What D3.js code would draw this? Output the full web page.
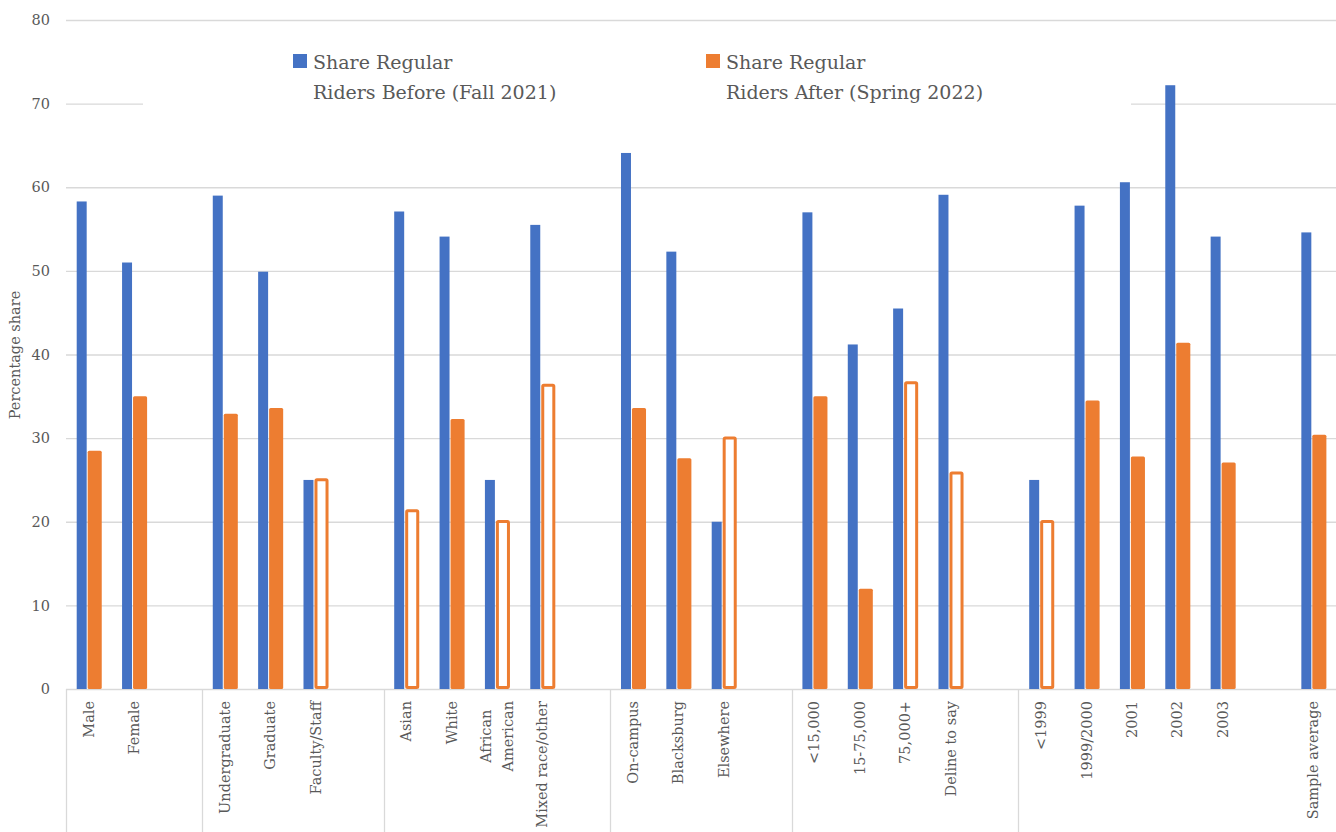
<!DOCTYPE html>
<html>
<head>
<meta charset="utf-8">
<script src="https://cdn.jsdelivr.net/npm/d3@7"></script>
<style>
  html, body { margin: 0; padding: 0; background: #fff; }
  svg { display: block; }
  text { font-family: "DejaVu Serif", "Liberation Serif", serif; fill: #595959; }
</style>
</head>
<body>
<svg id="chart" width="1336" height="832"></svg>
<script>
// Category slots along the x axis; empty strings are spacer slots between groups
const categories = [
  "Male", "Female", "",
  "Undergraduate", "Graduate", "Faculty/Staff", "",
  "Asian", "White", "African\nAmerican", "Mixed race/other", "",
  "On-campus", "Blacksburg", "Elsewhere", "",
  "<15,000", "15-75,000", "75,000+", "Deline to say", "",
  "<1999", "1999/2000", "2001", "2002", "2003", "",
  "Sample average"
];

// Share of regular riders (%), same order as categories
const before = [
  58.3, 51.0, null,
  59.0, 49.9, 25.0, null,
  57.1, 54.1, 25.0, 55.5, null,
  64.1, 52.3, 20.0, null,
  57.0, 41.2, 45.5, 59.1, null,
  25.0, 57.8, 60.6, 72.2, 54.1, null,
  54.6
];
const after = [
  28.5, 35.0, null,
  32.9, 33.6, 25.2, null,
  21.5, 32.3, 20.2, 36.5, null,
  33.6, 27.6, 30.2, null,
  35.0, 12.0, 36.8, 26.0, null,
  20.2, 34.5, 27.8, 41.4, 27.1, null,
  30.4
];

// Categories whose "after" bar is drawn as an outline only
const outlinedAfter = ["Faculty/Staff", "Asian", "African\nAmerican", "Mixed race/other",
  "Elsewhere", "75,000+", "Deline to say", "<1999"];

// First category of each group (group dividers below the axis)
const groupStarts = ["Male", "Undergraduate", "Asian", "On-campus", "<15,000", "<1999"];

const seriesNames = [
  ["Share Regular", "Riders Before (Fall 2021)"],
  ["Share Regular", "Riders After (Spring 2022)"]
];
const yTicks = [0, 10, 20, 30, 40, 50, 60, 70, 80];
const yTitle = "Percentage share";

const BLUE = "#4472C4", ORANGE = "#ED7D31", GRID = "#d9d9d9";

const svg = d3.select("#chart");
const plotLeft = 66, plotRight = 1336, plotTop = 20, plotBottom = 689;

const x = d3.scaleBand().domain(d3.range(categories.length)).range([plotLeft, plotRight]).padding(0);
const y = d3.scaleLinear().domain([0, 80]).range([plotBottom, plotTop]);
const bw = x.bandwidth();

// Horizontal gridlines
svg.append("g").selectAll("line").data(yTicks).join("line")
  .attr("x1", plotLeft).attr("x2", plotRight)
  .attr("y1", d => y(d) + 0.5).attr("y2", d => y(d) + 0.5)
  .attr("stroke", GRID).attr("stroke-width", 1.3);

// Y axis labels via d3 axis
const yAxis = svg.append("g").attr("transform", `translate(${plotLeft},0)`)
  .call(d3.axisLeft(y).tickValues(yTicks).tickSize(0).tickPadding(16));
yAxis.select(".domain").remove();
yAxis.selectAll("text")
  .attr("font-family", "DejaVu Serif").attr("font-size", 14.5).attr("fill", "#595959");

// Y axis title
svg.append("text")
  .attr("transform", "translate(20,355) rotate(-90)")
  .attr("text-anchor", "middle")
  .attr("font-size", 14.5)
  .text(yTitle);

// Legend (white panel sits over the plot area)
svg.append("rect").attr("x", 143).attr("y", 30).attr("width", 988).attr("height", 85).attr("fill", "#fff");
const legendX = [293, 706];
[BLUE, ORANGE].forEach((c, i) => {
  const g = svg.append("g").attr("transform", `translate(${legendX[i]},0)`);
  g.append("rect").attr("x", 0).attr("y", 54).attr("width", 14).attr("height", 14).attr("fill", c);
  g.append("text").attr("x", 20).attr("y", 69).attr("font-size", 19).text(seriesNames[i][0]);
  g.append("text").attr("x", 20).attr("y", 99).attr("font-size", 19).text(seriesNames[i][1]);
});

// Group dividers below the axis
const dividerX = groupStarts.map(c => x(categories.indexOf(c)));
svg.append("g").selectAll("line").data(dividerX).join("line")
  .attr("x1", d => Math.round(d) + 0.5).attr("x2", d => Math.round(d) + 0.5)
  .attr("y1", plotBottom).attr("y2", 832)
  .attr("stroke", GRID).attr("stroke-width", 1.3);

const idx = d3.range(categories.length);

// "Before" bars
svg.append("g").selectAll("rect").data(idx.filter(i => before[i] != null)).join("rect")
  .attr("x", i => x(i) + bw * 0.236)
  .attr("width", bw * 0.22)
  .attr("y", i => y(before[i]))
  .attr("height", i => y(0) - y(before[i]))
  .attr("fill", BLUE);

// "After" bars: solid or outlined
const afterIdx = idx.filter(i => after[i] != null);
const solid = afterIdx.filter(i => !outlinedAfter.includes(categories[i]));
const hollow = afterIdx.filter(i => outlinedAfter.includes(categories[i]));
svg.append("g").selectAll("rect").data(solid).join("rect")
  .attr("x", i => x(i) + bw * 0.478)
  .attr("width", bw * 0.31)
  .attr("y", i => y(after[i]))
  .attr("height", i => y(0) - y(after[i]))
  .attr("rx", 1.5)
  .attr("fill", ORANGE);
svg.append("g").selectAll("rect").data(hollow).join("rect")
  .attr("x", i => x(i) + bw * 0.478 + 1.5)
  .attr("width", bw * 0.31 - 3)
  .attr("y", i => y(after[i]) + 1.5)
  .attr("height", i => y(0) - y(after[i]) - 3)
  .attr("rx", 1)
  .attr("fill", "#fff")
  .attr("stroke", ORANGE)
  .attr("stroke-width", 3);

// Category labels, rotated, top-aligned under the axis
const labels = svg.append("g");
idx.filter(i => categories[i] !== "").forEach(i => {
  const lines = categories[i].split("\n");
  const cx = x(i) + bw / 2;
  const g = labels.append("g");
  const lineGap = 22;
  const texts = lines.map(ln => g.append("text")
    .attr("font-size", 14.5)
    .attr("text-anchor", "middle")
    .attr("dy", "0.35em")
    .text(ln));
  const maxW = d3.max(texts, t => t.node().getComputedTextLength());
  const cy = 701 + maxW / 2;
  texts.forEach((t, k) => {
    const off = (k - (lines.length - 1) / 2) * lineGap;
    t.attr("transform", `translate(${cx + off},${cy}) rotate(-90)`);
  });
});
</script>
</body>
</html>
